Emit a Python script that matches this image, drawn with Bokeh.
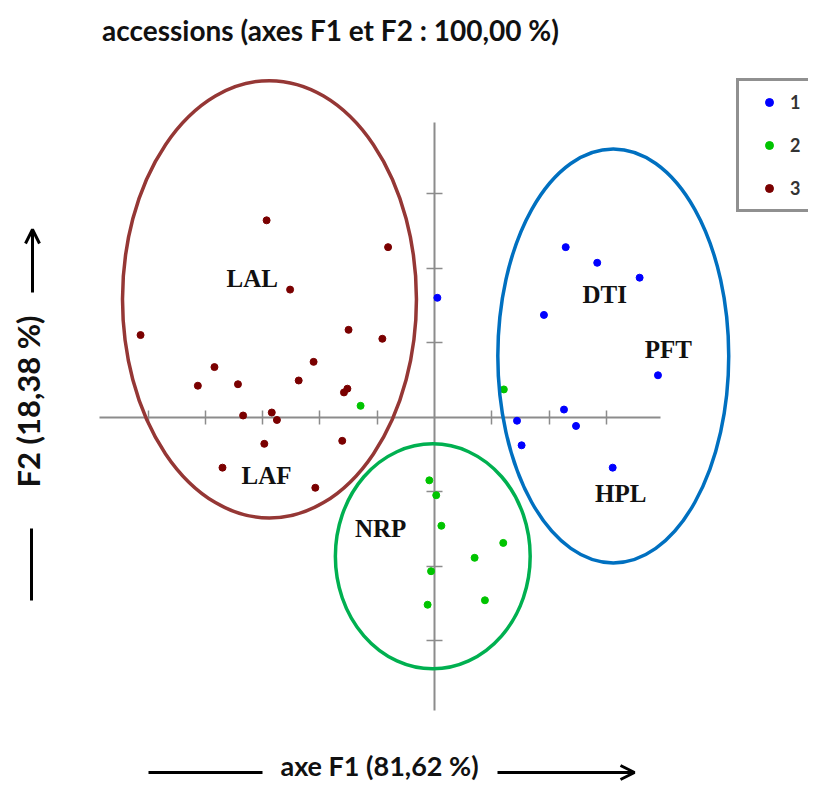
import numpy as np
from bokeh.plotting import figure
from bokeh.models import (Range1d, LinearAxis, FixedTicker, Label, Arrow, OpenHead,
                          Legend, LegendItem)
from bokeh.core.properties import value
from bokeh.embed import file_html
from bokeh.resources import INLINE

# ---------------- data (factor scores on F1 / F2) ----------------
g1_x = [2.29, 2.84, 3.58, 1.91, 3.90, 2.26, 1.44, 2.47, 1.52, 3.11, 0.05]
g1_y = [2.28, 2.07, 1.87, 1.37, 0.56, 0.10, -0.05, -0.12, -0.38, -0.68, 1.60]

g2_x = [-1.29, 1.21, -0.09, 0.03, 0.12, 1.20, 0.70, -0.06, 0.88, -0.12]
g2_y = [0.15, 0.37, -0.85, -1.05, -1.46, -1.69, -1.89, -2.07, -2.46, -2.52]

g3_x = [-2.93, -0.81, -2.52, -5.13, -1.50, -0.91, -3.84, -2.11, -4.13, -3.43,
        -2.37, -1.52, -1.58, -3.34, -2.84, -2.75, -2.97, -1.61, -3.70, -2.08]
g3_y = [2.64, 2.28, 1.71, 1.10, 1.17, 1.05, 0.67, 0.74, 0.42, 0.44,
        0.49, 0.38, 0.33, 0.02, 0.06, -0.04, -0.36, -0.32, -0.68, -0.95]

group_names = ["1", "2", "3"]
group_colors = ["#0000ff", "#00c400", "#7a0000"]

# cluster ellipses (centre, width, height in F1/F2 units)
ell_x = [-2.88, -0.03, 3.12]
ell_y = [1.58, -1.87, 0.82]
ell_w = [5.13, 3.40, 4.03]
ell_h = [5.87, 3.02, 5.56]
ell_colors = ["#953735", "#00b050", "#0070c0"]

# cluster names
lab_txt = ["LAL", "LAF", "NRP", "DTI", "PFT", "HPL"]
lab_x = [-3.18, -2.93, -0.94, 2.97, 4.08, 3.25]
lab_y = [1.86, -0.79, -1.49, 1.65, 0.91, -1.03]

x_ticks = [-5, -4, -3, -2, -1, 1, 2, 3]
y_ticks = [-3, -2, -1, 1, 2, 3]
x_axis_extent = (-5.85, 3.94)
y_axis_extent = (-3.94, 3.95)

# ---------------- layout ----------------
W, H = 808, 781
X0_PX, X_UNIT_PX = 434.0, 57.3     # canvas pixel of F1 = 0, pixels per unit
Y0_PX, Y_UNIT_PX = 416.5, 74.5     # canvas pixel of F2 = 0, pixels per unit


def dx(px):
    return (px - X0_PX) / X_UNIT_PX


def dy(py):
    return (Y0_PX - py) / Y_UNIT_PX


p = figure(width=W, height=H,
           x_range=Range1d(dx(0), dx(W)), y_range=Range1d(dy(H), dy(0)),
           x_axis_type=None, y_axis_type=None,
           output_backend="svg", toolbar_location=None, min_border=0)
p.outline_line_color = None
p.background_fill_color = "white"

axis_style = dict(axis_line_color="#8c8c8c", axis_line_width=2,
                  major_tick_line_color="#8c8c8c", major_tick_line_width=1.5,
                  minor_tick_line_color=None,
                  major_label_text_font_size="0px", level="underlay")

xax = LinearAxis(fixed_location=0, ticker=FixedTicker(ticks=x_ticks),
                 bounds=x_axis_extent, major_tick_in=7, major_tick_out=7,
                 major_label_overrides={t: "" for t in x_ticks}, **axis_style)
yax = LinearAxis(fixed_location=0, ticker=FixedTicker(ticks=y_ticks),
                 bounds=y_axis_extent, major_tick_in=8, major_tick_out=8,
                 major_label_overrides={t: "" for t in y_ticks}, **axis_style)
p.add_layout(xax, "below")
p.add_layout(yax, "left")

# points
rs = []
for gx, gy, c in zip([g1_x, g2_x, g3_x], [g1_y, g2_y, g3_y], group_colors):
    rs.append(p.scatter(gx, gy, size=7, fill_color=c, line_color=c))

# ellipses
p.ellipse(x=ell_x, y=ell_y, width=ell_w, height=ell_h, fill_color=None,
          line_color=ell_colors, line_width=3.5)

# cluster labels
p.text(x=lab_x, y=lab_y, text=lab_txt, text_font=value("Liberation Serif"),
       text_font_style="bold", text_font_size="25px", text_align="center",
       text_baseline="middle", text_color="#111111")

# title
p.add_layout(Label(x=dx(330), y=dy(29), text="accessions (axes F1 et F2 : 100,00 %)",
                   text_font="Lato", text_font_style="bold", text_font_size="28px",
                   text_align="center", text_baseline="middle", text_color="#111111"))

# y label + arrows
p.add_layout(Label(x=dx(27), y=dy(401), text="F2 (18,38 %)", angle=np.pi / 2,
                   text_font="Lato", text_font_style="bold", text_font_size="31px",
                   text_align="center", text_baseline="middle", text_color="#111111"))
p.add_layout(Arrow(end=OpenHead(size=14, line_width=3, line_color="black"),
                   x_start=dx(32), y_start=dy(292), x_end=dx(32), y_end=dy(229),
                   line_width=3, line_color="black"))
p.add_layout(Arrow(end=None, x_start=dx(31), y_start=dy(528), x_end=dx(31), y_end=dy(600),
                   line_width=3, line_color="black"))

# x label + arrows
p.add_layout(Label(x=dx(379), y=dy(765), text="axe F1 (81,62 %)",
                   text_font="Lato", text_font_style="bold", text_font_size="27px",
                   text_align="center", text_baseline="middle", text_color="#111111"))
p.add_layout(Arrow(end=None, x_start=dx(148), y_start=dy(772), x_end=dx(262), y_end=dy(772),
                   line_width=3, line_color="black"))
p.add_layout(Arrow(end=OpenHead(size=14, line_width=3, line_color="black"),
                   x_start=dx(497), y_start=dy(772), x_end=dx(634), y_end=dy(772),
                   line_width=3, line_color="black"))

# legend
legend = Legend(items=[LegendItem(label=n, renderers=[r]) for n, r in zip(group_names, rs)],
                location=(736, H - 212), padding=10, spacing=21, margin=0,
                glyph_height=20, glyph_width=40, label_standoff=1, label_height=20,
                label_text_font="Lato", label_text_font_style="bold",
                label_text_font_size="18px", label_text_color="#333333",
                border_line_color="#222222", border_line_width=3,
                background_fill_color="white", background_fill_alpha=1)
p.add_layout(legend)

open("out.html", "w").write(file_html(p, INLINE))
